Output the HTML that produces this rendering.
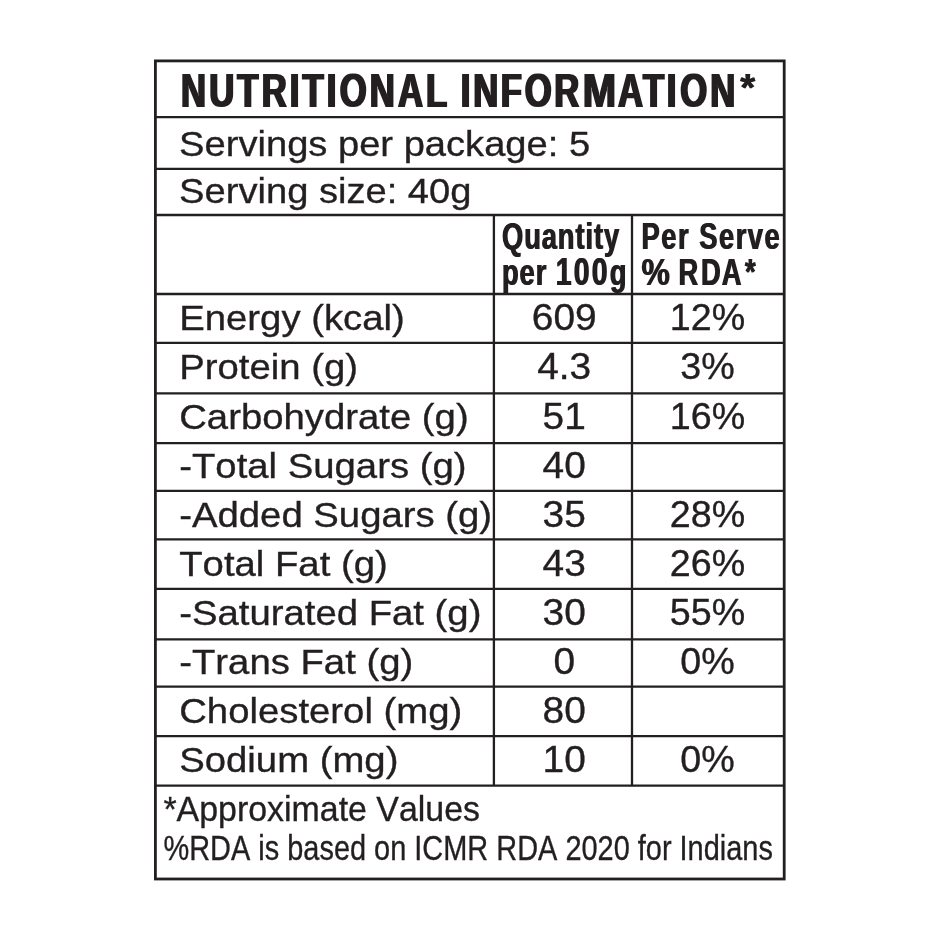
<!DOCTYPE html>
<html lang="en">
<head>
<meta charset="utf-8">
<title>Nutritional Information</title>
<style>
html,body{margin:0;padding:0;background:#fff;}
body{width:940px;height:940px;overflow:hidden;position:relative;}
svg{position:absolute;left:0;top:0;display:block;}
text{font-family:"Liberation Sans",Arial,Helvetica,sans-serif;fill:#231f20;font-kerning:none;}
.b{font-weight:bold;}
.r text,text.r{stroke:#231f20;stroke-width:0.35px;}
.ln{stroke:#231f20;fill:none;}
</style>
</head>
<body>
<svg width="940" height="940" viewBox="0 0 940 940">
<defs>
<filter id="cond" x="-2%" y="-10%" width="104%" height="120%" color-interpolation-filters="sRGB">
<feMorphology operator="dilate" radius="1 0"/>
</filter>
<filter id="cond1" x="-4%" y="-10%" width="108%" height="120%" color-interpolation-filters="sRGB">
<feOffset in="SourceGraphic" dx="1" dy="0" result="o"/>
<feMerge><feMergeNode in="SourceGraphic"/><feMergeNode in="o"/></feMerge>
</filter>
</defs>
<rect x="0" y="0" width="940" height="940" fill="#ffffff"/>
<!-- outer border -->
<rect class="ln" x="155.4" y="60.9" width="628.8" height="818.1" stroke-width="2.8"/>
<!-- horizontal rules -->
<g class="ln" stroke-width="2.3">
<line x1="155" x2="784" y1="117.2" y2="117.2"/>
<line x1="155" x2="784" y1="168.9" y2="168.9"/>
<line x1="155" x2="784" y1="215.0" y2="215.0"/>
<line x1="155" x2="784" y1="294.0" y2="294.0"/>
<line x1="155" x2="784" y1="342.9" y2="342.9"/>
<line x1="155" x2="784" y1="393.3" y2="393.3"/>
<line x1="155" x2="784" y1="443.2" y2="443.2"/>
<line x1="155" x2="784" y1="490.9" y2="490.9"/>
<line x1="155" x2="784" y1="539.4" y2="539.4"/>
<line x1="155" x2="784" y1="588.9" y2="588.9"/>
<line x1="155" x2="784" y1="639.4" y2="639.4"/>
<line x1="155" x2="784" y1="686.7" y2="686.7"/>
<line x1="155" x2="784" y1="736.1" y2="736.1"/>
<line x1="155" x2="784" y1="785.6" y2="785.6"/>
<!-- vertical rules -->
<line x1="493.9" x2="493.9" y1="215.0" y2="785.6"/>
<line x1="632.0" x2="632.0" y1="215.0" y2="785.6"/>
</g>

<!-- title -->
<text class="b" id="t_title" filter="url(#cond)" transform="translate(181,106.8) scale(0.7174,1)" font-size="48.3" word-spacing="-5.37"><tspan letter-spacing="4.39">NUTRITIONAL </tspan><tspan letter-spacing="4.78" dx="1.95 -0.56 -1.39 -0.98 -0.98">INFOR</tspan><tspan letter-spacing="4.78" textLength="52" lengthAdjust="spacingAndGlyphs">M</tspan><tspan letter-spacing="4.78" dx="-2.9 -4.88 -1.0 0.5 -0.7">ATION</tspan></text><text class="b" id="t_ast" filter="url(#cond1)" transform="translate(739.8,101.0) scale(0.98,1)" font-size="39">*</text>
<text class="r" id="t_s1" transform="translate(179.1,155.9) scale(1.065,1)" font-size="35.8">Servings per package: 5</text>
<text class="r" id="t_s2" transform="translate(179.1,202.7) scale(1.065,1)" font-size="35.8">Serving size: 40g</text>

<!-- column headers -->
<text class="b" id="t_h1a" filter="url(#cond1)" transform="translate(501.5,248.85) scale(0.7225,1)" font-size="37.8" letter-spacing="1.27">Quantity</text>
<text class="b" id="t_h1b" filter="url(#cond1)" transform="translate(501.5,284.5) scale(0.7225,1)" font-size="37.8" letter-spacing="1.27">per <tspan font-size="39.3" letter-spacing="3.1">100</tspan>g</text>
<text class="b" id="t_h2a" filter="url(#cond1)" transform="translate(641,248.85) scale(0.7225,1)" font-size="37.8" letter-spacing="2.12">Per Serve</text>
<text class="b" id="t_h2b" filter="url(#cond1)" transform="translate(641,284.5) scale(0.7225,1)" font-size="37.8" letter-spacing="3.6"><tspan textLength="43.5" lengthAdjust="spacingAndGlyphs">%</tspan><tspan dx="-6.3"> </tspan>RD<tspan dx="-2.2">A</tspan><tspan dx="1.5">*</tspan></text>

<!-- rows -->
<g class="r" font-size="35.8">
<text id="r0" transform="translate(179.2,329.6) scale(1.07,1)">Energy (kcal)</text>
<text id="r1" transform="translate(179.2,378.7) scale(1.07,1)">Protein (g)</text>
<text id="r2" transform="translate(179.2,428.8) scale(1.07,1)">Carbohydrate (g)</text>
<text id="r3" transform="translate(179.2,477.5) scale(1.07,1)">-Total Sugars (g)</text>
<text id="r4" transform="translate(179.2,526.9) scale(1.07,1)">-Added Sugars (g)</text>
<text id="r5" transform="translate(179.2,575.9) scale(1.07,1)">Total Fat (g)</text>
<text id="r6" transform="translate(179.2,625.4) scale(1.07,1)">-Saturated Fat (g)</text>
<text id="r7" transform="translate(179.2,673.8) scale(1.07,1)">-Trans Fat (g)</text>
<text id="r8" transform="translate(179.2,722.8) scale(1.07,1)">Cholesterol (mg)</text>
<text id="r9" transform="translate(179.2,771.7) scale(1.07,1)">Sodium (mg)</text>
</g>
<g class="r" font-size="36.7" text-anchor="middle">
<text id="q0" transform="translate(564.2,329.6) scale(1.06,1)">609</text>
<text id="q1" transform="translate(564.2,378.7) scale(1.06,1)">4.3</text>
<text id="q2" transform="translate(564.2,428.8) scale(1.06,1)">51</text>
<text id="q3" transform="translate(564.2,477.5) scale(1.06,1)">40</text>
<text id="q4" transform="translate(564.2,526.9) scale(1.06,1)">35</text>
<text id="q5" transform="translate(564.2,575.9) scale(1.06,1)">43</text>
<text id="q6" transform="translate(564.2,625.4) scale(1.06,1)">30</text>
<text id="q7" transform="translate(564.2,673.8) scale(1.06,1)">0</text>
<text id="q8" transform="translate(564.2,722.8) scale(1.06,1)">80</text>
<text id="q9" transform="translate(564.2,771.7) scale(1.06,1)">10</text>
<text id="p0" transform="translate(707.5,329.6) scale(1.026,1)">12%</text>
<text id="p1" transform="translate(707.5,378.7) scale(1.026,1)">3%</text>
<text id="p2" transform="translate(707.5,428.8) scale(1.026,1)">16%</text>
<text id="p4" transform="translate(707.5,526.9) scale(1.026,1)">28%</text>
<text id="p5" transform="translate(707.5,575.9) scale(1.026,1)">26%</text>
<text id="p6" transform="translate(707.5,625.4) scale(1.026,1)">55%</text>
<text id="p7" transform="translate(707.5,673.8) scale(1.026,1)">0%</text>
<text id="p9" transform="translate(707.5,771.7) scale(1.026,1)">0%</text>
</g>

<!-- footnotes -->
<text class="r" id="f1" transform="translate(163.4,820.9) scale(0.9606,1)" font-size="35.3">*Approximate Values</text>
<text class="r" id="f2" transform="translate(163.5,859.7) scale(0.8197,1)" font-size="35.3">%RDA is based on ICMR RDA 2020 for Indians</text>
</svg>
</body>
</html>
